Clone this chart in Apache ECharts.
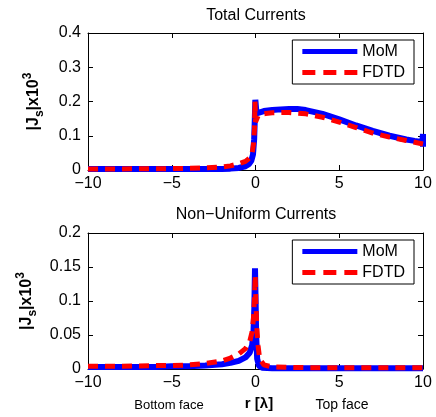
<!DOCTYPE html>
<html>
<head>
<meta charset="utf-8">
<script src="https://cdn.jsdelivr.net/npm/echarts@6/dist/echarts.min.js"></script>
<style>
  html, body { margin: 0; padding: 0; background: #fff; }
  #chart { width: 436px; height: 417px; }
</style>
</head>
<body>
<div id="chart"></div>
<script>
// valeurs (r en lambda, |Js| x10^3)
var xTicks = [-10, -5, 0, 5, 10];

// courants totaux
var totalMomX = [-10, -8, -6, -4, -3, -2, -1.5, -1, -0.6, -0.4, -0.25, -0.15, -0.08, -0.04, -0.01, 0.02, 0.06, 0.15, 0.5, 1, 1.5, 2, 2.5, 3, 4, 5, 6, 7, 8, 9, 9.5, 9.9, 9.97, 10, 10];
var totalMomY = [0.003, 0.003, 0.003, 0.003, 0.003, 0.003, 0.004, 0.006, 0.011, 0.017, 0.027, 0.045, 0.09, 0.15, 0.205, 0.2, 0.165, 0.17, 0.172, 0.175, 0.177, 0.178, 0.178, 0.175, 0.164, 0.148, 0.13, 0.114, 0.1, 0.089, 0.085, 0.082, 0.09, 0.105, 0.068];
var totalFdtdX = [-10, -8, -6, -5, -4, -3, -2, -1.5, -1, -0.6, -0.35, -0.2, -0.12, -0.06, -0.03, 0, 0.05, 0.15, 0.3, 0.6, 1, 2, 3, 4, 5, 6, 7, 8, 9, 10];
var totalFdtdY = [0.003, 0.003, 0.004, 0.004, 0.005, 0.006, 0.009, 0.012, 0.018, 0.025, 0.035, 0.05, 0.075, 0.12, 0.2, 0.14, 0.145, 0.158, 0.163, 0.165, 0.167, 0.168, 0.164, 0.154, 0.14, 0.124, 0.108, 0.096, 0.086, 0.076];

// courants non uniformes
var nonMomX = [-10, -8, -6, -5, -4, -3, -2, -1.5, -1, -0.6, -0.35, -0.2, -0.12, -0.07, -0.03, 0, 0.04, 0.1, 0.2, 0.4, 1, 3, 10];
var nonMomY = [0.003, 0.003, 0.003, 0.004, 0.004, 0.005, 0.007, 0.009, 0.012, 0.017, 0.024, 0.035, 0.055, 0.09, 0.148, 0.11, 0.05, 0.015, 0.005, 0.002, 0.001, 0.001, 0.001];
var nonFdtdX = [-10, -8, -6, -5, -4, -3, -2, -1.5, -1, -0.6, -0.35, -0.2, -0.12, -0.06, -0.02, 0.02, 0.08, 0.15, 0.25, 0.5, 1, 3, 10];
var nonFdtdY = [0.004, 0.004, 0.005, 0.005, 0.006, 0.008, 0.012, 0.016, 0.022, 0.03, 0.04, 0.055, 0.075, 0.105, 0.138, 0.1, 0.06, 0.035, 0.015, 0.006, 0.003, 0.002, 0.002];

function pts(xs, ys) {
    return xs.map(function (x, i) { return [x, ys[i]]; });
}

var font = 'Liberation Sans, Arial, sans-serif';
var chart = echarts.init(document.getElementById('chart'));

function boxAxisX(gi, pos, labels) {
    return {
        type: 'value', gridIndex: gi, position: pos, min: -10, max: 10, interval: 5,
        axisLine: { show: true, onZero: false, lineStyle: { color: '#000', width: 1 } },
        axisTick: { show: true, inside: true, length: 5, lineStyle: { color: '#000' } },
        axisLabel: { show: labels, color: '#000', fontSize: 16, fontFamily: font, margin: 6,
            formatter: function (v) { return v < 0 ? '\u2212' + Math.abs(v) : '' + v; } },
        splitLine: { show: false }
    };
}
function boxAxisY(gi, pos, max, step, labels) {
    return {
        type: 'value', gridIndex: gi, position: pos, min: 0, max: max, interval: step,
        axisLine: { show: true, onZero: false, lineStyle: { color: '#000', width: 1 } },
        axisTick: { show: true, inside: true, length: 5, lineStyle: { color: '#000' } },
        axisLabel: { show: labels, color: '#000', fontSize: 16, fontFamily: font, margin: 7 },
        splitLine: { show: false },
        name: labels ? '{a||J}{s|s}{a||x10}{p|3}' : '',
        nameLocation: 'middle', nameRotate: 90, nameGap: 42,
        nameTextStyle: {
            rich: {
                a: { fontSize: 16, fontWeight: 'bold', fontFamily: font, color: '#000' },
                s: { fontSize: 12, fontWeight: 'bold', fontFamily: font, color: '#000', padding: [12, 0, 0, 0] },
                p: { fontSize: 12, fontWeight: 'bold', fontFamily: font, color: '#000', padding: [0, 0, 12, 0] }
            }
        }
    };
}

var blue = { color: '#0000ff', width: 6 };
var red = { color: '#ff0000', width: 5, type: [10, 7] };
var solidIcon = 'path://M0,0h55v5h-55z';
var dashIcon = 'path://M0,0h13v5h-13zM21,0h13v5h-13zM42,0h13v5h-13z';
var legendBase = {
    data: [{ name: 'MoM', icon: solidIcon }, { name: 'FDTD', icon: dashIcon }],
    orient: 'vertical', right: 22, itemWidth: 55, itemHeight: 5, symbolKeepAspect: false,
    itemGap: 4, padding: [3, 9, 3, 10], borderColor: '#000', borderWidth: 1, backgroundColor: '#fff',
    textStyle: { fontSize: 16, fontFamily: font, color: '#000', lineHeight: 17 }
};

chart.setOption({
    animation: false,
    backgroundColor: '#fff',
    grid: [
        { left: 88, right: 13, top: 33, height: 137 },
        { left: 88, right: 13, top: 233, height: 136 }
    ],
    legend: [
        Object.assign({}, legendBase, { top: 40 }),
        Object.assign({}, legendBase, { top: 240 })
    ],
    xAxis: [
        boxAxisX(0, 'bottom', true), boxAxisX(0, 'top', false),
        boxAxisX(1, 'bottom', true), boxAxisX(1, 'top', false)
    ],
    yAxis: [
        boxAxisY(0, 'left', 0.4, 0.1, true), boxAxisY(0, 'right', 0.4, 0.1, false),
        boxAxisY(1, 'left', 0.2, 0.05, true), boxAxisY(1, 'right', 0.2, 0.05, false)
    ],
    graphic: [
        { type: 'text', x: 256, y: 16, style: { text: 'Total Currents', align: 'center', verticalAlign: 'middle', fontSize: 16, fontFamily: font, fill: '#000' } },
        { type: 'text', x: 256, y: 215, style: { text: 'Non\u2212Uniform Currents', align: 'center', verticalAlign: 'middle', fontSize: 16, fontFamily: font, fill: '#000' } },
        { type: 'text', x: 169, y: 405, style: { text: 'Bottom face', align: 'center', verticalAlign: 'middle', fontSize: 13, fontFamily: font, fill: '#000' } },
        { type: 'text', x: 259, y: 404, style: { text: 'r [\u03bb]', align: 'center', verticalAlign: 'middle', fontSize: 15, fontWeight: 'bold', fontFamily: font, fill: '#000' } },
        { type: 'text', x: 342, y: 405, style: { text: 'Top face', align: 'center', verticalAlign: 'middle', fontSize: 14, fontFamily: font, fill: '#000' } }
    ],
    series: [
        { name: 'MoM', type: 'line', xAxisIndex: 0, yAxisIndex: 0, data: pts(totalMomX, totalMomY),
          symbol: 'none', lineStyle: blue, itemStyle: { color: '#0000ff' } },
        { name: 'FDTD', type: 'line', xAxisIndex: 0, yAxisIndex: 0, data: pts(totalFdtdX, totalFdtdY),
          symbol: 'none', lineStyle: red, itemStyle: { color: '#ff0000' } },
        { name: 'MoM', type: 'line', xAxisIndex: 2, yAxisIndex: 2, data: pts(nonMomX, nonMomY),
          symbol: 'none', lineStyle: blue, itemStyle: { color: '#0000ff' } },
        { name: 'FDTD', type: 'line', xAxisIndex: 2, yAxisIndex: 2, data: pts(nonFdtdX, nonFdtdY),
          symbol: 'none', lineStyle: red, itemStyle: { color: '#ff0000' } }
    ]
});
</script>
</body>
</html>
